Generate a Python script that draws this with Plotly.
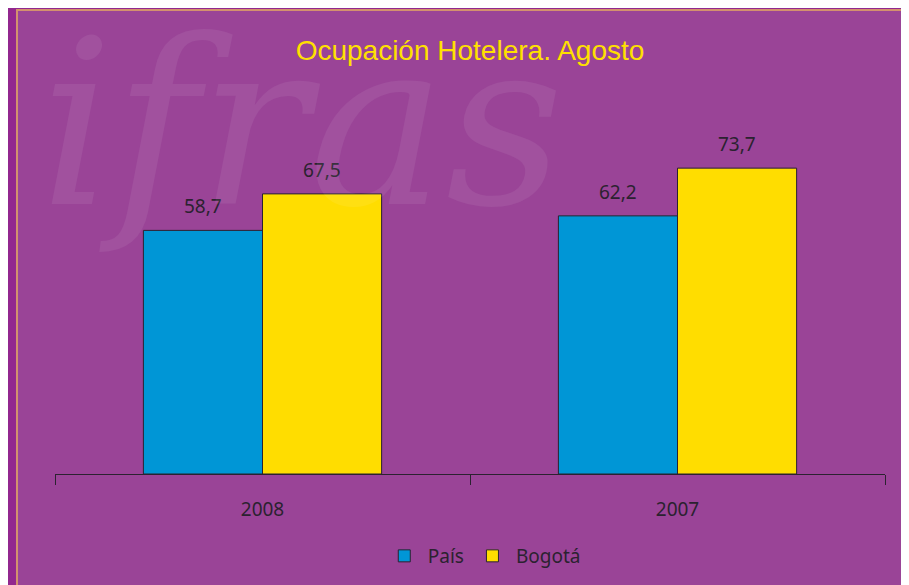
import plotly.graph_objects as go

# Datos
years = ['2008', '2007']
pais = [58.7, 62.2]
bogota = [67.5, 73.7]

title_text = 'Ocupación Hotelera. Agosto'

TEXT_DARK = '#2B2230'
BLUE = '#0096D6'
YELLOW = '#FFDD00'
BARGAP = 0.426

fig = go.Figure()

fig.add_trace(go.Bar(
    x=years, y=pais, name='País',
    marker=dict(color=BLUE, line=dict(color=TEXT_DARK, width=1))
))
fig.add_trace(go.Bar(
    x=years, y=bogota, name='Bogotá',
    marker=dict(color=YELLOW, line=dict(color=TEXT_DARK, width=1))
))

# Etiquetas de valores sobre las barras (centro de cada barra del grupo)
half = (1 - BARGAP) / 4
for serie, offset in ((pais, -half), (bogota, half)):
    for i, v in enumerate(serie):
        fig.add_annotation(
            x=i + offset, y=v, xref='x', yref='y',
            text=f'{v:.1f}'.replace('.', ','), showarrow=False,
            yanchor='bottom', yshift=9,
            font=dict(family='Noto Sans', size=19, color=TEXT_DARK)
        )

# Marco del fondo
fig.add_shape(type='rect', xref='paper', yref='paper',
              x0=-0.0458, x1=1.08, y0=-0.45, y1=1.3976,
              fillcolor='#9A4497', line=dict(color='#D3916E', width=2),
              layer='below')

# Marca de agua
fig.add_annotation(text='ifras', xref='paper', yref='paper',
                   x=-0.02, y=1.46, xanchor='left', yanchor='top',
                   showarrow=False,
                   font=dict(family='DejaVu Serif', size=230,
                             color='rgba(255,255,255,0.07)', style='italic'))

fig.update_layout(
    width=909, height=585,
    margin=dict(l=47, r=32, t=134, b=119),
    paper_bgcolor='#92278F',
    plot_bgcolor='rgba(0,0,0,0)',
    separators=',.',
    barmode='group', bargap=BARGAP, bargroupgap=0,
    title=dict(text=title_text, x=0.5, xref='paper', y=0.928, yanchor='middle',
               font=dict(family='Liberation Sans, Arial, sans-serif',
                         size=28, color='#FFE000')),
    xaxis=dict(type='category', showline=True, linecolor=TEXT_DARK, linewidth=1,
               ticks='outside', tickson='boundaries', ticklen=10,
               tickcolor=TEXT_DARK, showgrid=False, ticklabelstandoff=18,
               tickfont=dict(family='Noto Sans', size=19, color=TEXT_DARK)),
    yaxis=dict(range=[0, 80], visible=False, showgrid=False),
    legend=dict(orientation='h', x=0.516, xanchor='center', y=-0.247, yanchor='middle',
                bgcolor='rgba(0,0,0,0)',
                font=dict(family='Noto Sans', size=19, color=TEXT_DARK),
                itemwidth=37, traceorder='normal'),
    showlegend=True
)

fig.write_html('out.html')
